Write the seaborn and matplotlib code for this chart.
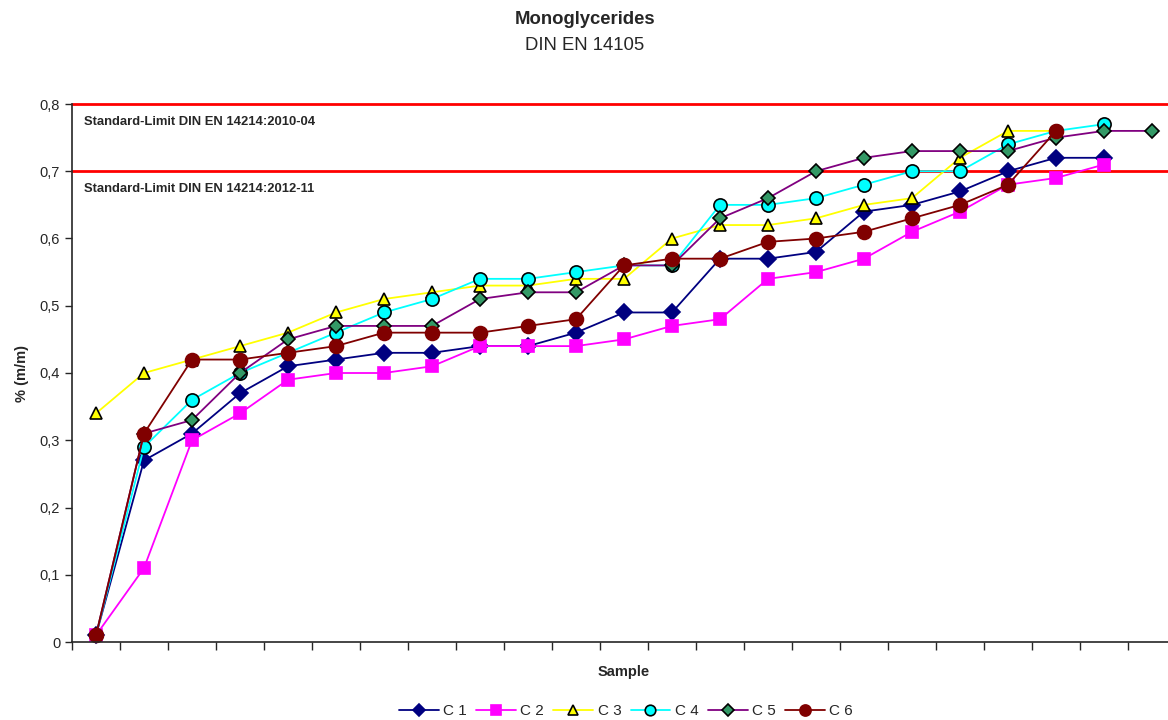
import numpy as np
import pandas as pd
import matplotlib
matplotlib.use("Agg")
import matplotlib.pyplot as plt
from matplotlib.ticker import FuncFormatter, MultipleLocator
import seaborn as sns

# values
c1 = [0.01, 0.27, 0.31, 0.37, 0.41, 0.42, 0.43, 0.43, 0.44, 0.44, 0.46, 0.49, 0.49, 0.57, 0.57,
      0.58, 0.64, 0.65, 0.67, 0.70, 0.72, 0.72]
c2 = [0.01, 0.11, 0.30, 0.34, 0.39, 0.40, 0.40, 0.41, 0.44, 0.44, 0.44, 0.45, 0.47, 0.48, 0.54,
      0.55, 0.57, 0.61, 0.64, 0.68, 0.69, 0.71]
c3 = [0.34, 0.40, 0.42, 0.44, 0.46, 0.49, 0.51, 0.52, 0.53, 0.53, 0.54, 0.54, 0.60, 0.62, 0.62,
      0.63, 0.65, 0.66, 0.72, 0.76, 0.76]
c4 = [0.01, 0.29, 0.36, 0.40, 0.43, 0.46, 0.49, 0.51, 0.54, 0.54, 0.55, 0.56, 0.56, 0.65, 0.65,
      0.66, 0.68, 0.70, 0.70, 0.74, 0.76, 0.77]
c5 = [0.01, 0.31, 0.33, 0.40, 0.45, 0.47, 0.47, 0.47, 0.51, 0.52, 0.52, 0.56, 0.56, 0.63, 0.66,
      0.70, 0.72, 0.73, 0.73, 0.73, 0.75, 0.76, 0.76]
c6 = [0.01, 0.31, 0.42, 0.42, 0.43, 0.44, 0.46, 0.46, 0.46, 0.47, 0.48, 0.56, 0.57, 0.57, 0.595,
      0.60, 0.61, 0.63, 0.65, 0.68, 0.76]

series_names = ["C 1", "C 2", "C 3", "C 4", "C 5", "C 6"]
n_samples = 23
limits = [0.8, 0.7]
limit_labels = ["Standard-Limit DIN EN 14214:2010-04", "Standard-Limit DIN EN 14214:2012-11"]

sns.set_style("ticks")
plt.rcParams['font.family'] = ['Liberation Sans', 'DejaVu Sans']

fig = plt.figure(figsize=(11.68, 7.2), dpi=100)
ax = fig.add_axes([72 / 1168, 78 / 720, 1104 / 1168, 538 / 720])

styles = [
    dict(color='#000080', marker='D', markersize=8, markerfacecolor='#000080', markeredgecolor='#000080'),
    dict(color='#FF00FF', marker='s', markersize=9, markerfacecolor='#FF00FF', markeredgecolor='#FF00FF'),
    dict(color='#FFFF00', marker='^', markersize=9, markerfacecolor='#FFFF00', markeredgecolor='black'),
    dict(color='#00FFFF', marker='o', markersize=9.5, markerfacecolor='#00FFFF', markeredgecolor='black'),
    dict(color='#800080', marker='D', markersize=7.5, markerfacecolor='#339966', markeredgecolor='black'),
    dict(color='#800000', marker='o', markersize=10, markerfacecolor='#800000', markeredgecolor='#800000'),
]

for name, vals, st in zip(series_names, [c1, c2, c3, c4, c5, c6], styles):
    df = pd.DataFrame({'Sample': np.arange(len(vals)), 'Value': vals})
    sns.lineplot(data=df, x='Sample', y='Value', ax=ax, label=name, linewidth=1.3,
                 markeredgewidth=1.2, clip_on=False, **st)

for lim, txt in zip(limits, limit_labels):
    ax.axhline(lim, color='#FF0000', linewidth=2, clip_on=False, zorder=1)
    ax.text(0.011, lim - 0.027, txt, transform=ax.get_yaxis_transform(), fontsize=9.4,
            fontweight='bold', va='center', ha='left')

ax.set_xlim(-0.5, n_samples - 0.5)
ax.set_ylim(0, 0.8)
ax.set_xticks(np.arange(-0.5, n_samples, 1))
ax.set_xticklabels([])
ax.yaxis.set_major_locator(MultipleLocator(0.1))
ax.yaxis.set_major_formatter(FuncFormatter(lambda v, p: '0' if abs(v) < 1e-9 else f'{v:.1f}'.replace('.', ',')))
ax.tick_params(axis='y', labelsize=10.5, length=5, width=1)
ax.tick_params(axis='x', length=6, width=1)
ax.spines['top'].set_visible(False)
ax.spines['right'].set_visible(False)
ax.spines['left'].set_linewidth(1.2)
ax.spines['bottom'].set_linewidth(1.2)
ax.grid(False)

ax.set_xlabel('Sample', fontsize=10.5, fontweight='bold', labelpad=7)
ax.set_ylabel('% (m/m)', fontsize=10.5, fontweight='bold', labelpad=8)

fig.text(585 / 1168, 1 - 20 / 720, 'Monoglycerides', fontsize=13.3, fontweight='bold', ha='center', va='center')
fig.text(585 / 1168, 1 - 46 / 720, 'DIN EN 14105', fontsize=13.3, ha='center', va='center')

ax.legend(loc='center', bbox_to_anchor=(626 / 1168, 9 / 720), bbox_transform=fig.transFigure,
          ncol=6, frameon=False, fontsize=11, handlelength=2.6, columnspacing=0.6,
          handletextpad=0.3, markerscale=0.8)

fig.savefig('out.png', dpi=100)
